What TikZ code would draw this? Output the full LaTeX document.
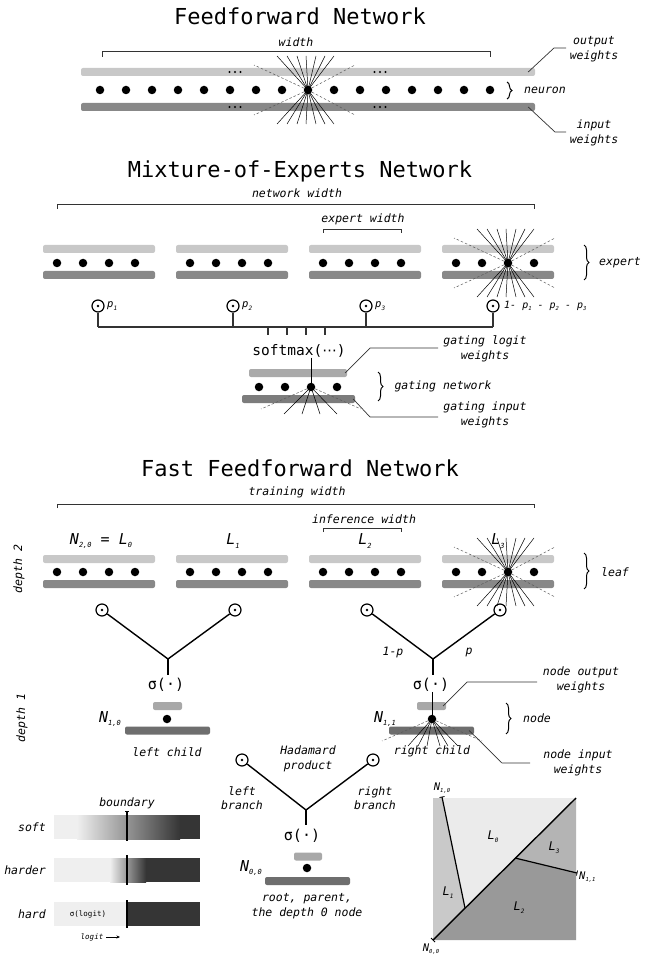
\documentclass[tikz,border=0pt]{standalone}
\usepackage{fontspec}
\setmainfont{DejaVu Sans Mono}
\newfontfamily\djs{DejaVu Sans}
\usetikzlibrary{decorations.pathreplacing,arrows.meta}
\definecolor{lbar}{HTML}{C8C8C8}
\definecolor{dbar}{HTML}{888888}
\definecolor{glbar}{HTML}{AAAAAA}
\definecolor{gdbar}{HTML}{7C7C7C}
\definecolor{nlbar}{HTML}{A8A8A8}
\definecolor{ndbar}{HTML}{6E6E6E}
\definecolor{lead}{HTML}{333333}
\definecolor{pl}{HTML}{EFEFEF}
\definecolor{pd}{HTML}{353535}
\definecolor{rA}{HTML}{EBEBEB}
\definecolor{rB}{HTML}{C9C9C9}
\definecolor{rC}{HTML}{B4B4B4}
\definecolor{rD}{HTML}{999999}
\newcommand\sbs[2][7]{\raisebox{-0.45ex}{\fontsize{#1}{#1}\selectfont #2}}
\newcommand\raysboth[2]{%
  \foreach \dx in {-31,-21,-11,-2,8,17,26}{\draw[sray] (#1,#2) -- ++(\dx,34); \draw[sray] (#1,#2) -- ++(\dx,-34);}
  \foreach \dx in {-54,47}{\draw[dray] (#1,#2) -- ++(\dx,25); \draw[dray] (#1,#2) -- ++(\dx,-25);}}
\newcommand\raysdn[3]{%
  \foreach \dx in {#3}{\draw[sray] (#1,#2) -- ++(\dx,27);}
  \foreach \dx in {-50,50}{\draw[dray] (#1,#2) -- ++(\dx,22);}}
\newcommand\threedots[2]{\foreach \ddx in {-5.5,0,5.5}{\fill[black] (#1+\ddx,#2) circle (1.2pt);}}
\tikzset{
  lbl/.style={font=\itshape\fontsize{11.5}{14.5}\selectfont, inner sep=0, align=center},
  ttl/.style={font=\fontsize{22}{24}\selectfont, inner sep=0},
  fnc/.style={font=\fontsize{15}{17}\selectfont, inner sep=0},
  biglab/.style={font=\itshape\fontsize{15}{17}\selectfont, inner sep=0},
  plab/.style={font=\itshape\fontsize{10.5}{13}\selectfont, inner sep=0, anchor=west},
  wbar/.style={rectangle, rounded corners=2pt, inner sep=0, minimum height=8pt},
  nrn/.style={circle, fill=black, inner sep=0, minimum size=8.5pt},
  odot/.style={circle, draw=black, line width=1.2pt, minimum size=12pt, inner sep=0,
    path picture={\fill[black] (path picture bounding box.center) circle (1.4pt);}},
  brk/.style={draw=lead, line width=0.8pt},
  leader/.style={draw=lead, line width=0.7pt},
  branch/.style={draw=black, line width=1.4pt},
  sray/.style={draw=black, line width=0.5pt},
  dray/.style={draw=black!65, line width=0.5pt, dash pattern=on 2.5pt off 2pt},
  brc/.style={draw=black, line width=1pt, decorate, decoration={brace, amplitude=5pt}},
}
\begin{document}
\begin{tikzpicture}[x=1pt,y=-1pt]
\fill[white] (0,0) rectangle (649,957);
\useasboundingbox (0,0) rectangle (649,957);

% ================= Feedforward Network
\node[ttl] (t1) at (300,16) {Feedforward Network};
\node[lbl] (w1) at (296,42) {width};
\draw[brk] (102,57) -- (102,51) -- (490,51) -- (490,57);
\node[wbar, fill=lbar, minimum width=454pt] (fo) at (308,72) {};
\node[wbar, fill=dbar, minimum width=454pt] (fi) at (308,107) {};
\raysboth{308}{90}
\foreach \kk in {0,...,15} {\node[nrn] (fn\kk) at (100+26*\kk,90) {};}
\threedots{235}{72}\threedots{380}{72}\threedots{235}{107}\threedots{380}{107}
\draw[brc] (507,82) -- (507,99);
\node[lbl] (neu) at (545,90) {neuron};
\node[lbl] (ow) at (594,49) {output\\weights};
\node[lbl] (iw) at (594,133) {input\\weights};
\coordinate (owa) at (554,48); \coordinate (owb) at (566,48);
\coordinate (iwa) at (555,132); \coordinate (iwb) at (566,132);
\draw[leader] ([xshift=-7pt]fo.east) -- (owa) -- (owb);
\draw[leader] ([xshift=-7pt]fi.east) -- (iwa) -- (iwb);

% ================= Mixture of experts
\node[ttl] (t2) at (300,171) {Mixture-of-Experts Network};
\node[lbl] (nw) at (297,193) {network width};
\draw[brk] (57,209) -- (57,204) -- (534,204) -- (534,209);
\node[lbl] (ewl) at (363,219) {expert width};
\draw[brk] (323,233) -- (323,229) -- (401,229) -- (401,233);
\foreach \ii/\lx in {1/43,2/176,3/309,4/442}{
  \node[wbar, fill=lbar, minimum width=112pt] (el\ii) at (\lx+56,249) {};
  \node[wbar, fill=dbar, minimum width=112pt] (ed\ii) at (\lx+56,275) {};
}
\raysboth{508}{263}
\foreach \ii/\lx in {1/43,2/176,3/309,4/442}{
  \foreach \kk in {0,...,3}{\node[nrn] (en\ii\kk) at (\lx+14+26*\kk,263) {};}
}
\draw[brc] (584,245) -- (584,280);
\node[lbl] (exl) at (620,263) {expert};

\foreach \ii/\xx in {1/98,2/233,3/366,4/493} {\node[odot] (g\ii) at (\xx,306) {};}
\node[plab] (p1) at (107,306) {p\sbs[6]{1}};
\node[plab] (p2) at (242,306) {p\sbs[6]{2}};
\node[plab] (p3) at (375,306) {p\sbs[6]{3}};
\node[plab, font=\itshape\fontsize{10}{12}\selectfont] (p4) at (504,306) {1- p\sbs[5.5]{1} - p\sbs[5.5]{2} - p\sbs[5.5]{3}};
\coordinate (bus1) at (98,327); \coordinate (bus4) at (493,327);
\draw[brk, line width=1.2pt] (bus1) -- (bus4);
\foreach \ii in {1,...,4} {\draw[brk, line width=1.2pt] (g\ii) -- (g\ii |- bus1);}
\foreach \xx in {268,287,306,325} {\draw[brk, line width=1.2pt] (\xx,327) -- (\xx,335);}
\node[fnc, font=\fontsize{14.5}{17}\selectfont] (sm) at (299,351) {softmax({\djs ⋯})};
\node[wbar, fill=glbar, minimum width=98pt] (gl) at (298,373) {};
\node[wbar, fill=gdbar, minimum width=113pt] (gd) at (298.5,399) {};
\raysdn{311}{387}{-27,-9,9,26}
\foreach \kk in {0,...,3} {\node[nrn] (gn\kk) at (259+26*\kk,387) {};}
\draw[sray] (gn2 |- sm.south) -- (gn2);
\draw[brc] (378,372) -- (378,401);
\node[lbl] (gnet) at (443,386) {gating network};
\node[lbl] (glw) at (485,349) {gating logit\\weights};
\node[lbl] (giw) at (485,415) {gating input\\weights};
\coordinate (gla) at (370,348); \coordinate (glb) at (438,348);
\coordinate (gia) at (370,417); \coordinate (gib) at (438,417);
\draw[leader] ([xshift=-2pt]gl.east) -- (gla) -- (glb);
\draw[leader] ([xshift=-2pt]gd.east) -- (gia) -- (gib);

% ================= Fast feedforward
\node[ttl] (t3) at (300,468) {Fast Feedforward Network};
\node[lbl] (trw) at (297,492) {training width};
\draw[brk] (57,508) -- (57,504) -- (534,504) -- (534,508);
\node[lbl] (infw) at (364,519) {inference width};
\draw[brk] (323,532) -- (323,528) -- (401,528) -- (401,532);
\node[biglab] (lf0) at (101,541) {N\sbs{2,0} = L\sbs{0}};
\node[biglab] (lf1) at (233,541) {L\sbs{1}};
\node[biglab] (lf2) at (365,541) {L\sbs{2}};
\node[biglab] (lf3) at (498,541) {L\sbs{3}};
\foreach \ii/\lx in {1/43,2/176,3/309,4/442}{
  \node[wbar, fill=lbar, minimum width=112pt] (ll\ii) at (\lx+56,559) {};
  \node[wbar, fill=dbar, minimum width=112pt] (ld\ii) at (\lx+56,584) {};
}
\raysboth{508}{572}
\foreach \ii/\lx in {1/43,2/176,3/309,4/442}{
  \foreach \kk in {0,...,3}{\node[nrn] (ln\ii\kk) at (\lx+14+26*\kk,572) {};}
}
\node[lbl, rotate=90] (d2) at (19,569) {depth 2};
\draw[brc] (584,553) -- (584,589);
\node[lbl] (leaf) at (615,572) {leaf};

\foreach \ii/\xx in {1/102,2/235,3/367,4/500} {\node[odot] (f\ii) at (\xx,610) {};}
\coordinate (jl) at (168,659); \coordinate (jls) at (168,675);
\coordinate (jr) at (433,659); \coordinate (jrs) at (433,675);
\draw[branch] (f1) -- (jl) -- (f2);
\draw[branch] (jl) -- (jls);
\draw[branch] (f3) -- (jr) -- (f4);
\draw[branch] (jr) -- (jrs);
\node[lbl] (omp) at (393,652) {1-p};
\node[lbl] (pp) at (469,652) {p};
\node[fnc] (sg1) at (166,685) {σ(·)};
\node[fnc] (sg2) at (431,685) {σ(·)};

\node[wbar, fill=nlbar, minimum width=29pt] (n10o) at (167.5,706) {};
\node[wbar, fill=ndbar, minimum width=85pt] (n10i) at (167.5,730.5) {};
\node[nrn] (n10) at (167,719) {};
\node[biglab, anchor=east] (n10l) at (121,719) {N\sbs{1,0}};
\node[lbl] (lc) at (167,752) {left child};

\node[wbar, fill=nlbar, minimum width=29pt] (n11o) at (431.5,706) {};
\node[wbar, fill=ndbar, minimum width=85pt] (n11i) at (431.5,730.5) {};
\coordinate (n11c) at (432,719);
\draw[sray] (n11c |- sg2.south) -- (n11c);
\raysdn{432}{719}{-24,-14,-5,8,16,26}
\node[nrn] (n11) at (n11c) {};
\node[biglab, anchor=east] (n11l) at (396,719) {N\sbs{1,1}};
\node[lbl] (rc) at (432,751) {right child};
\draw[brc] (506,703) -- (506,734);
\node[lbl] (nd) at (537,718) {node};
\node[lbl] (now) at (581,680) {node output\\weights};
\node[lbl] (niw) at (578,763) {node input\\weights};
\coordinate (nowa) at (467,682); \coordinate (nowb) at (537,682);
\coordinate (niwa) at (502,763); \coordinate (niwb) at (530,763);
\draw[leader] ([xshift=-3pt]n11o.east) -- (nowa) -- (nowb);
\draw[leader] ([xshift=-5pt]n11i.east) -- (niwa) -- (niwb);
\node[lbl, rotate=90] (d1) at (22,718) {depth 1};

% root
\node[odot] (h1) at (242,760) {};
\node[odot] (h2) at (373,760) {};
\node[lbl] (hp) at (308,759) {Hadamard\\product};
\coordinate (j0) at (306,810); \coordinate (j0s) at (306,825);
\draw[branch] (h1) -- (j0) -- (h2);
\draw[branch] (j0) -- (j0s);
\node[lbl] (lbr) at (242,798) {left\\branch};
\node[lbl] (rbr) at (375,798) {right\\branch};
\node[fnc] (sg0) at (302,836) {σ(·)};
\node[wbar, fill=nlbar, minimum width=28pt] (n00o) at (308,856.5) {};
\node[wbar, fill=ndbar, minimum width=85pt] (n00i) at (307.5,881) {};
\node[nrn] (n00) at (307,868) {};
\node[biglab, anchor=east] (n00l) at (262,868) {N\sbs{0,0}};
\node[lbl] (rt) at (307,906) {root, parent,\\the depth 0 node};

% ================= boundary panel
\node[lbl] (bd) at (127,803) {boundary};
\fill[pl] (54,815) rectangle (77,839);
\shade[left color=pl, right color=pd] (77,815) rectangle (180,839);
\fill[pd] (180,815) rectangle (200,839);
\fill[pl] (54,858) rectangle (110,882);
\shade[left color=pl, right color=pd] (110,858) rectangle (146,882);
\fill[pd] (146,858) rectangle (200,882);
\fill[pl] (54,902) rectangle (127,926);
\fill[pd] (127,902) rectangle (200,926);
\draw[line width=1.2pt] (127,811) -- (127,841);
\draw[line width=0.8pt] (125,811) -- (129,811);
\draw[line width=1.2pt] (127,855) -- (127,885);
\draw[line width=1.2pt] (127,900) -- (127,928);
\node[lbl, anchor=east] (sft) at (46,827) {soft};
\node[lbl, anchor=east] (hdr) at (46,870) {harder};
\node[lbl, anchor=east] (hrd) at (46,914) {hard};
\node[inner sep=0, font=\fontsize{7.5}{8}\selectfont] (sgl) at (88,914) {σ(logit)};
\node[inner sep=0, font=\itshape\fontsize{7.5}{8}\selectfont] (lg) at (92,937) {logit};
\coordinate (lga) at (106,937); \coordinate (lgb) at (120,937);
\draw[-{Stealth[length=3.5pt,width=3pt]}, line width=0.7pt] (lga) -- (lgb);

% ================= partition square
\fill[rB] (433,798) -- (442,798) -- (465,908) -- (433,940) -- cycle;
\fill[rA] (442,798) -- (576,798) -- (465,908) -- cycle;
\fill[rC] (576,798) -- (576,873) -- (515,858) -- cycle;
\fill[rD] (433,940) -- (515,858) -- (576,873) -- (576,940) -- cycle;
\coordinate (q00) at (433,940); \coordinate (qtr) at (576,798);
\coordinate (q10a) at (442,797); \coordinate (q10b) at (465,908);
\coordinate (q11a) at (515,858); \coordinate (q11b) at (577,873);
\draw[line width=1.4pt] (q00) -- (qtr);
\draw[line width=1.2pt] (q10a) -- (q10b);
\draw[line width=1.2pt] (q11a) -- (q11b);
\draw[line width=0.8pt] (439.5,797.5) -- (444.5,796.5);
\draw[line width=0.8pt] (577.5,870.5) -- (576.5,875.5);
\draw[line width=0.8pt] (431,938) -- (435,942);
\node[inner sep=0, font=\itshape\fontsize{10.5}{12}\selectfont] (sq10) at (442,788) {N\sbs[5.5]{1,0}};
\node[inner sep=0, font=\itshape\fontsize{10.5}{12}\selectfont, anchor=west] (sq11) at (579,877) {N\sbs[5.5]{1,1}};
\node[inner sep=0, font=\itshape\fontsize{10.5}{12}\selectfont] (sq00) at (431,949) {N\sbs[5.5]{0,0}};
\node[inner sep=0, font=\itshape\fontsize{12}{13}\selectfont] (sl0) at (493,837) {L\sbs[6]{0}};
\node[inner sep=0, font=\itshape\fontsize{12}{13}\selectfont] (sl1) at (448,893) {L\sbs[6]{1}};
\node[inner sep=0, font=\itshape\fontsize{12}{13}\selectfont] (sl2) at (519,908) {L\sbs[6]{2}};
\node[inner sep=0, font=\itshape\fontsize{12}{13}\selectfont] (sl3) at (554,848) {L\sbs[6]{3}};
\end{tikzpicture}
\end{document}
